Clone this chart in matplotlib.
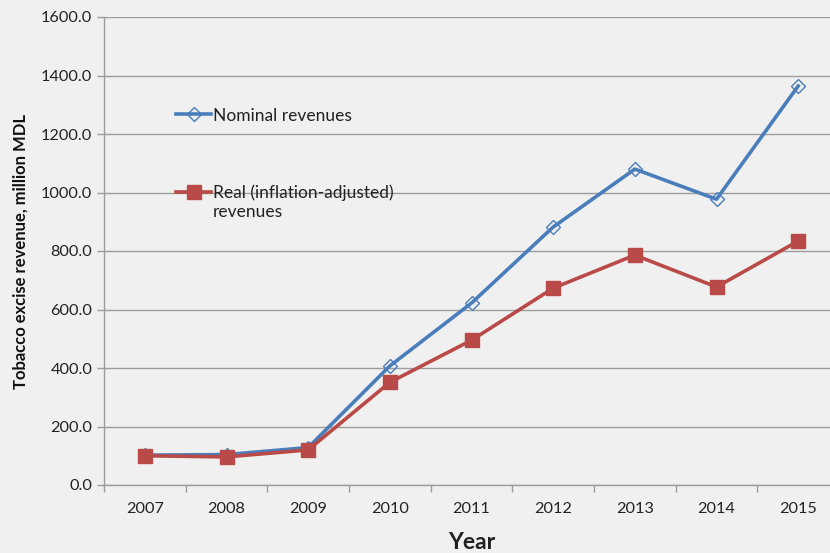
import matplotlib.pyplot as plt

years = ["2007", "2008", "2009", "2010", "2011", "2012", "2013", "2014", "2015"]
nominal = [102, 104, 128, 407, 622, 882, 1080, 977, 1364]
real = [100, 96, 120, 351, 495, 673, 786, 677, 834]
y_ticks = [0, 200, 400, 600, 800, 1000, 1200, 1400, 1600]

plt.rcParams['font.family'] = ['Lato', 'DejaVu Sans']

bg = '#f0f0f0'
grid_c = '#9c9c9c'
blue = '#4a7ebb'
red = '#b94a48'

fig = plt.figure(figsize=(8.3, 5.53), dpi=100, facecolor=bg)
ax = fig.add_axes([104 / 830, 1 - 485 / 553, 735 / 830, 468 / 553])
ax.set_facecolor(bg)

x = list(range(len(years)))
ax.plot(x, nominal, color=blue, lw=2.6, marker='D', markersize=7,
        markerfacecolor='none', markeredgecolor=blue, markeredgewidth=1.0,
        label='Nominal revenues', zorder=3)
ax.plot(x, real, color=red, lw=2.6, marker='s', markersize=10,
        markerfacecolor=red, markeredgecolor=red,
        label='Real (inflation-adjusted)', zorder=3)

ax.set_xlim(-0.5, len(years) - 0.5)
ax.set_ylim(0, 1600)
ax.set_yticks(y_ticks)
ax.set_yticklabels([f"{v:.1f}" for v in y_ticks])
ax.set_xticks(x)
ax.set_xticklabels(years)
ax.set_xticks([i - 0.5 for i in range(len(years) + 1)], minor=True)
ax.tick_params(axis='x', which='major', length=0, pad=12, labelsize=11.7, labelcolor='#222222')
ax.tick_params(axis='x', which='minor', length=5, color=grid_c, width=1)
ax.tick_params(axis='y', length=5, color=grid_c, width=1, labelsize=11.7, labelcolor='#222222')

ax.grid(axis='y', color=grid_c, lw=1)
ax.set_axisbelow(True)
for s in ['top', 'right']:
    ax.spines[s].set_visible(False)
for s in ['left', 'bottom']:
    ax.spines[s].set_color(grid_c)
    ax.spines[s].set_linewidth(1)

ax.set_ylabel('Tobacco excise revenue, million MDL', fontsize=12,
              fontweight='bold', color='#111111', labelpad=9)
ax.set_xlabel('Year', fontsize=16.5, fontweight='bold', color='#222222', labelpad=12)

leg = ax.legend(loc='upper left', bbox_to_anchor=(0.077, 0.84), frameon=False,
                fontsize=12.5, handlelength=2.0, handletextpad=0.1,
                labelspacing=3.5, labelcolor='#222222')

fig.canvas.draw()
t = leg.get_texts()[1]
bb = t.get_window_extent()
fx, fy = fig.transFigure.inverted().transform((bb.x0, bb.y0))
fig.text(fx, fy - 0.006, 'revenues', fontsize=12.5, color='#222222', va='top', ha='left')

fig.savefig('out.png', dpi=100, facecolor=bg)
